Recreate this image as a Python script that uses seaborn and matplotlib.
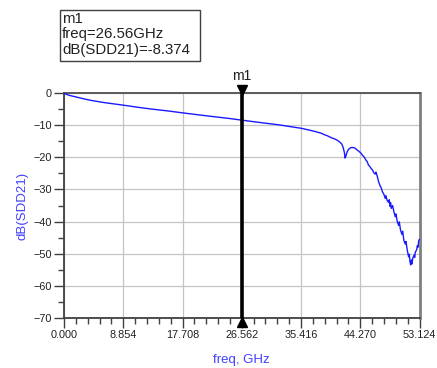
import numpy as np
import pandas as pd
import matplotlib
matplotlib.use("Agg")
import matplotlib.pyplot as plt
import matplotlib.patches as mpatches
import matplotlib.transforms as mtransforms
from matplotlib.ticker import MultipleLocator, FormatStrFormatter
import seaborn as sns

# Differential insertion loss, SDD21 in dB versus frequency in GHz
freq_ghz = [
    0.0, 0.5, 1.0, 2.0, 3.0, 4.0, 6.0, 8.854, 11.0, 13.0, 15.5, 17.708, 20.0, 22.0,
    24.5, 26.56, 28.5, 30.0, 32.0, 33.5, 35.416, 36.5, 37.5, 38.5, 39.0, 39.3,
    39.7, 40.0, 40.4, 40.8, 41.2, 41.5, 41.7, 41.9, 42.0, 42.15, 42.3, 42.5,
    42.8, 43.1, 43.4, 43.7, 44.0, 44.3, 44.6, 44.9, 45.1, 45.3, 45.5, 45.7,
    45.9, 46.1, 46.3, 46.5, 46.6, 46.8, 47.0, 47.2, 47.4, 47.6, 47.8, 48.0,
    48.1, 48.3, 48.5, 48.6, 48.7, 48.8, 48.9, 49.1, 49.3, 49.5, 49.6, 49.8,
    50.0, 50.1, 50.3, 50.5, 50.6, 50.8, 51.0, 51.1, 51.3, 51.5, 51.6, 51.7,
    51.8, 51.9, 52.0, 52.1, 52.3, 52.4, 52.5, 52.7, 52.8, 52.9, 53.0, 53.124,
]
sdd21_db = [
    0.0, -0.45, -0.75, -1.25, -1.75, -2.2, -2.9, -3.7, -4.35, -4.9, -5.5, -6.1,
    -6.7, -7.2, -7.8, -8.374, -8.9, -9.3, -9.8, -10.3, -10.9, -11.4, -11.9, -12.5,
    -13.0, -13.2, -13.6, -13.9, -14.2, -14.6, -15.2, -15.8, -16.8, -18.5, -20.2,
    -19.4, -18.3, -17.5, -17.0, -16.9, -17.0, -17.5, -18.0, -18.5, -19.3, -20.0,
    -20.8, -21.3, -22.4, -22.8, -23.5, -23.9, -24.8, -25.2, -24.6, -25.8, -27.5,
    -28.7, -29.5, -30.8, -31.5, -32.8, -31.9, -33.5, -34.0, -33.2, -35.2, -34.1,
    -35.9, -35.0, -37.0, -38.5, -37.6, -40.0, -41.2, -40.1, -42.8, -44.0, -43.0,
    -46.0, -47.0, -46.2, -49.0, -51.0, -50.2, -52.5, -53.5, -52.0, -53.2, -51.5,
    -50.5, -51.2, -49.5, -48.8, -47.5, -48.0, -46.0, -45.5,
]

marker_name = "m1"
marker_freq = 26.562
marker_label_freq = "26.56GHz"
marker_value = -8.374

x_ticks = [0.000, 8.854, 17.708, 26.562, 35.416, 44.270, 53.124]
y_ticks = [0, -10, -20, -30, -40, -50, -60, -70]

sns.set_theme(style="white")
plt.rcParams["font.family"] = ["Liberation Sans", "DejaVu Sans"]

df = pd.DataFrame({"freq": freq_ghz, "sdd21": sdd21_db})

fig = plt.figure(figsize=(4.37, 3.68), dpi=100)
ax = fig.add_axes([0.1465, 0.1365, 0.8135, 0.6100])

sns.lineplot(data=df, x="freq", y="sdd21", ax=ax, color="#1a1aff",
             linewidth=1.0, zorder=3)

ax.set_xlim(x_ticks[0], x_ticks[-1])
ax.set_ylim(min(y_ticks), max(y_ticks))
ax.set_xticks(x_ticks)
ax.xaxis.set_major_formatter(FormatStrFormatter("%.3f"))
ax.xaxis.set_minor_locator(MultipleLocator((x_ticks[1] - x_ticks[0]) / 5))
ax.set_yticks(y_ticks)
ax.yaxis.set_minor_locator(MultipleLocator(5))

ax.grid(True, which="major", color="#c4c4c4", linewidth=0.9)
ax.tick_params(axis="both", which="major", direction="out", length=7,
               width=1.0, color="#404040", labelsize=7.8, labelcolor="#202020",
               pad=2, bottom=True, left=True)
ax.tick_params(axis="both", which="minor", direction="out", length=4,
               width=1.0, color="#404040", bottom=True, left=True)

for side in ("left", "bottom"):
    ax.spines[side].set_color("#404040")
    ax.spines[side].set_linewidth(1.3)
ax.spines["top"].set_color("#505050")
ax.spines["top"].set_linewidth(1.3)
ax.spines["right"].set_color("#808080")
ax.spines["right"].set_linewidth(2.0)

ax.set_xlabel("freq, GHz", color="#4040ff", fontsize=9.5, labelpad=10)
ax.set_ylabel("dB(SDD21)", color="#4040ff", fontsize=9.5, labelpad=3)

# Marker line with end triangles
ax.axvline(marker_freq, color="black", linewidth=2.6, zorder=4)
xt = ax.get_xaxis_transform()
top_tr = mtransforms.offset_copy(xt, fig=fig, x=0, y=3.5, units="dots")
bot_tr = mtransforms.offset_copy(xt, fig=fig, x=0, y=-3.8, units="dots")
ax.plot([marker_freq], [1.0], marker="v", markersize=7, color="black",
        transform=top_tr, clip_on=False, zorder=5)
ax.plot([marker_freq], [0.0], marker="^", markersize=7, color="black",
        transform=bot_tr, clip_on=False, zorder=5)
ax.text(marker_freq, 1.0, marker_name, transform=mtransforms.offset_copy(
        xt, fig=fig, x=0, y=10, units="dots"), ha="center", va="bottom",
        fontsize=10, color="#202020")

# Marker readout box
box_l, box_t, box_r, box_b = 60, 10, 200, 61
W, H = 437, 368
fig.patches.append(mpatches.Rectangle(
    (box_l / W, 1 - box_b / H), (box_r - box_l) / W, (box_b - box_t) / H,
    transform=fig.transFigure, facecolor="white", edgecolor="#404040",
    linewidth=1.0))
fig.text(62 / W, 1 - 12 / H,
         f"{marker_name}\nfreq={marker_label_freq}\ndB(SDD21)={marker_value:.3f}",
         ha="left", va="top", fontsize=10.8, linespacing=1.13, color="#202020")

fig.savefig("out.png", dpi=100)
